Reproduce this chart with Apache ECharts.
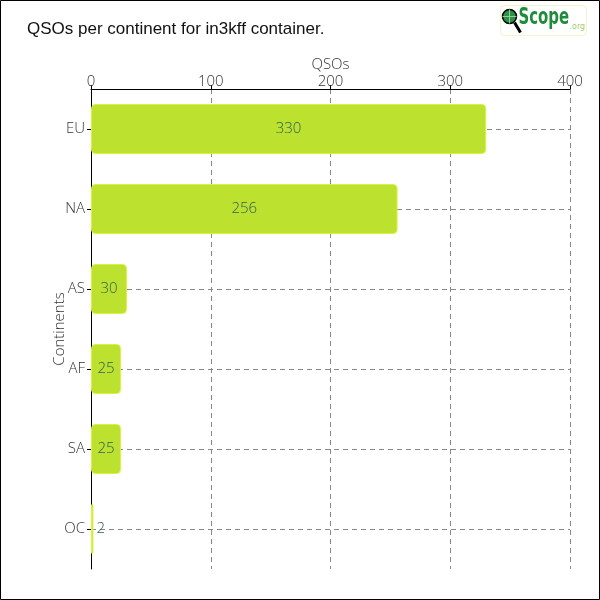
<!DOCTYPE html>
<html>
<head>
<meta charset="utf-8">
<script src="https://cdn.jsdelivr.net/npm/echarts@6/dist/echarts.min.js"></script>
<style>
  html, body { margin: 0; padding: 0; background: #fff; }
  #main { width: 600px; height: 600px; }
</style>
</head>
<body>
<div id="main"></div>
<script>
// continents and QSO counts
const continents = ['EU', 'NA', 'AS', 'AF', 'SA', 'OC']
const qsos = [330, 256, 30, 25, 25, 2]
const xTicks = [0, 100, 200, 300, 400]

const axisFont = '"Open Sans", "DejaVu Sans", sans-serif'

let chart = echarts.init(document.getElementById('main'))

let option = {
  backgroundColor: '#fff',
  animation: false,
  title: {
    text: 'QSOs per continent for in3kff container.',
    left: 22,
    top: 16,
    textStyle: {
      fontFamily: '"Liberation Sans", sans-serif',
      fontSize: 17,
      fontWeight: 'normal',
      color: '#111'
    }
  },
  grid: { left: 91, right: 30, top: 89, bottom: 31 },
  xAxis: {
    type: 'value',
    position: 'top',
    min: xTicks[0],
    max: xTicks[xTicks.length - 1],
    interval: 100,
    name: 'QSOs',
    nameLocation: 'middle',
    nameGap: 17,
    nameMoveOverlap: false,
    nameTextStyle: { fontFamily: axisFont, fontWeight: 300, fontSize: 15, color: '#333' },
    axisLine: { show: true, lineStyle: { color: '#000', width: 1 } },
    axisTick: { show: true, length: 4, lineStyle: { color: '#000' } },
    axisLabel: { margin: 0, fontFamily: axisFont, fontWeight: 300, fontSize: 15, color: '#333' },
    splitLine: { show: true, lineStyle: { color: '#888', type: [5, 4], width: 1 } }
  },
  yAxis: {
    type: 'category',
    inverse: true,
    data: continents,
    name: 'Continents',
    nameLocation: 'middle',
    nameGap: 24,
    nameMoveOverlap: false,
    nameTextStyle: { fontFamily: axisFont, fontWeight: 300, fontSize: 15, color: '#333' },
    axisLine: { show: true, lineStyle: { color: '#000', width: 1 } },
    axisTick: { show: true, alignWithLabel: true, length: 4, lineStyle: { color: '#000' } },
    axisLabel: { margin: 6, fontFamily: axisFont, fontWeight: 300, fontSize: 15, color: '#333' },
    splitLine: { show: false }
  },
  series: [
    {
      type: 'bar',
      data: qsos.map(v => ({
        value: v,
        label: v < 10 ? { position: 'right', distance: 3 } : undefined
      })),
      barWidth: 50,
      itemStyle: { color: '#bde12f', borderColor: '#d8f23e', borderWidth: 1, borderRadius: 4 },
      label: {
        show: true,
        position: 'inside',
        fontFamily: axisFont,
        fontWeight: 300,
        fontSize: 15,
        color: '#2f5f58'
      },
      markLine: {
        silent: true,
        z: 1,
        symbol: 'none',
        label: { show: false },
        lineStyle: { color: '#888', type: [5, 4], width: 1 },
        data: continents.map(c => ({ yAxis: c }))
      }
    }
  ],
  graphic: [
    {
      type: 'rect',
      shape: { x: 0.5, y: 0.5, width: 599, height: 599 },
      style: { fill: 'none', stroke: '#000', lineWidth: 1 },
      silent: true
    },
    {
      type: 'group',
      left: 500,
      top: 5,
      children: [
        {
          type: 'rect',
          shape: { x: 0, y: 0, width: 86, height: 30, r: 4 },
          style: { fill: '#fff', stroke: '#eef5c8', lineWidth: 1 }
        },
        {
          type: 'line',
          shape: { x1: 14, y1: 17, x2: 20, y2: 27 },
          style: { stroke: '#000', lineWidth: 3 }
        },
        {
          type: 'circle',
          shape: { cx: 9, cy: 11, r: 7 },
          style: { fill: '#2c8f4a', stroke: '#000', lineWidth: 1.5 }
        },
        {
          type: 'line',
          shape: { x1: 9, y1: 4, x2: 9, y2: 18 },
          style: { stroke: '#8fd08f', lineWidth: 1 }
        },
        {
          type: 'line',
          shape: { x1: 2, y1: 11, x2: 16, y2: 11 },
          style: { stroke: '#8fd08f', lineWidth: 1 }
        },
        {
          type: 'text',
          x: 18,
          y: 1,
          scaleX: 0.72,
          style: {
            text: 'Scope',
            fill: '#1e8c3c',
            font: 'bold 23px "DejaVu Sans Condensed", sans-serif'
          }
        },
        {
          type: 'text',
          x: 69,
          y: 17,
          style: { text: '.org', fill: '#9fcf6a', font: '8px "DejaVu Sans", sans-serif' }
        }
      ]
    }
  ]
}

option && chart.setOption(option)
</script>
</body>
</html>
